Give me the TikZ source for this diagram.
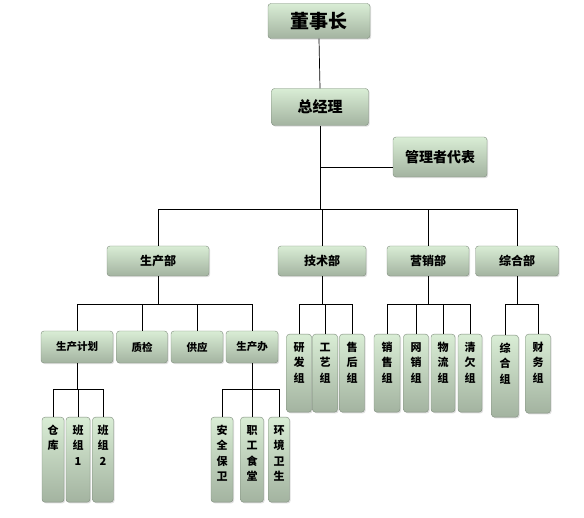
\documentclass[tikz,border=0pt]{standalone}
\usepackage{fontspec}
\newfontfamily\cjk{Noto Sans CJK SC}
\usetikzlibrary{shadows}

\definecolor{boxtop}{HTML}{D9EDD5}
\definecolor{boxbot}{HTML}{A3B3A0}
\definecolor{boxline}{HTML}{7F8C7D}

\begin{document}
\begin{tikzpicture}[
    x=1pt, y=-1pt,
    box/.style={
        draw=boxline,
        rounded corners=3pt,
        top color=boxtop,
        bottom color=boxbot,
        drop shadow={opacity=0.25, shadow xshift=1.2pt, shadow yshift=-1.2pt},
        inner sep=0pt
    },
    hbox/.style={
        box,
        font=\cjk\bfseries\fontsize{#1}{#1}\selectfont
    },
    vbox/.style={
        box,
        anchor=north,
        align=center,
        text height=17pt,
        font=\cjk\bfseries\fontsize{11}{15.5}\selectfont
    },
    link/.style={draw=black, line width=0.7pt}
]

    \useasboundingbox (0,0) rectangle (584,518);

    % Top
    \node[hbox=19, minimum width=102pt, minimum height=35pt] (dsz) at (319,21) {董事长};
    \node[hbox=15, minimum width=97pt, minimum height=37pt] (zjl) at (320,107) {总经理};
    \node[hbox=14, minimum width=94pt, minimum height=40pt] (gldb) at (440,157) {管理者代表};

    % Departments
    \node[hbox=12, minimum width=102pt, minimum height=30pt] (scb) at (158,261) {生产部};
    \node[hbox=12, minimum width=88pt, minimum height=30pt] (jsb) at (322,261) {技术部};
    \node[hbox=12, minimum width=82pt, minimum height=30pt] (yxb) at (428,261) {营销部};
    \node[hbox=12, minimum width=83pt, minimum height=30pt] (zhb) at (517,261) {综合部};

    % Production offices
    \node[hbox=10.5, minimum width=72pt, minimum height=32pt] (scjh) at (77,347) {生产计划};
    \node[hbox=10.5, minimum width=51pt, minimum height=32pt] (zj) at (142,347) {质检};
    \node[hbox=10.5, minimum width=52pt, minimum height=32pt] (gy) at (197,347) {供应};
    \node[hbox=10.5, minimum width=52pt, minimum height=32pt] (scbg) at (252,347) {生产办};

    % Groups
    \node[vbox, text width=25pt, text depth=61pt] (yfz) at (299,334) {研\\发\\组};
    \node[vbox, text width=25pt, text depth=61pt] (gyz) at (325,334) {工\\艺\\组};
    \node[vbox, text width=25pt, text depth=61pt] (shz) at (352,334) {售\\后\\组};
    \node[vbox, text width=26pt, text depth=61pt] (xsz) at (387,334) {销\\售\\组};
    \node[vbox, text width=25pt, text depth=61pt] (wxz) at (416,334) {网\\销\\组};
    \node[vbox, text width=24pt, text depth=61pt] (wlz) at (443,334) {物\\流\\组};
    \node[vbox, text width=24pt, text depth=61pt] (qqz) at (470,334) {清\\欠\\组};
    \node[vbox, text width=27pt, text depth=65pt] (zhz) at (505,335) {综\\合\\组};
    \node[vbox, text width=25pt, text depth=62pt] (cwz) at (538,334) {财\\务\\组};

    % Lowest level
    \node[vbox, text width=22pt, text depth=68pt] (ck) at (53,417) {仓\\库};
    \node[vbox, text width=24pt, text depth=68pt] (bz1) at (78,417) {班\\组\\1};
    \node[vbox, text width=21pt, text depth=68pt] (bz2) at (103,417) {班\\组\\2};
    \node[vbox, text width=22pt, text depth=68pt] (aqbw) at (222,417) {安\\全\\保\\卫};
    \node[vbox, text width=23pt, text depth=68pt] (zgst) at (252,417) {职\\工\\食\\堂};
    \node[vbox, text width=21pt, text depth=68pt] (hjws) at (279,417) {环\\境\\卫\\生};

    % Junctions
    \coordinate (j0) at (320,167);
    \coordinate (j1) at (320,209);
    \coordinate (j2) at (scb.south |- 0,304);
    \coordinate (j3) at (jsb.south |- 0,304);
    \coordinate (j4) at (yxb.south |- 0,304);
    \coordinate (j5) at (zhb.south |- 0,304);
    \coordinate (j6) at (scjh.south |- 0,389);
    \coordinate (j7) at (scbg.south |- 0,389);

    % Edges
    \draw[link] (dsz.south) -- (zjl.north);
    \draw[link] (zjl.south) -- (j1);
    \draw[link] (j0) -- (j0 -| gldb.west);
    \draw[link] (j1) -| (scb.north);
    \draw[link] (j1) -| (jsb.north);
    \draw[link] (j1) -| (yxb.north);
    \draw[link] (j1) -| (zhb.north);

    \draw[link] (scb.south) -- (j2);
    \draw[link] (j2) -| (scjh.north);
    \draw[link] (j2) -| (zj.north);
    \draw[link] (j2) -| (gy.north);
    \draw[link] (j2) -| (scbg.north);

    \draw[link] (jsb.south) -- (j3);
    \draw[link] (j3) -| (yfz.north);
    \draw[link] (j3) -| (gyz.north);
    \draw[link] (j3) -| (shz.north);

    \draw[link] (yxb.south) -- (j4);
    \draw[link] (j4) -| (xsz.north);
    \draw[link] (j4) -| (wxz.north);
    \draw[link] (j4) -| (wlz.north);
    \draw[link] (j4) -| (qqz.north);

    \draw[link] (zhb.south) -- (j5);
    \draw[link] (j5) -| (zhz.north);
    \draw[link] (j5) -| (cwz.north);

    \draw[link] (scjh.south) -- (j6);
    \draw[link] (j6) -| (ck.north);
    \draw[link] (j6) -| (bz1.north);
    \draw[link] (j6) -| (bz2.north);

    \draw[link] (scbg.south) -- (j7);
    \draw[link] (j7) -| (aqbw.north);
    \draw[link] (j7) -| (zgst.north);
    \draw[link] (j7) -| (hjws.north);

\end{tikzpicture}
\end{document}
